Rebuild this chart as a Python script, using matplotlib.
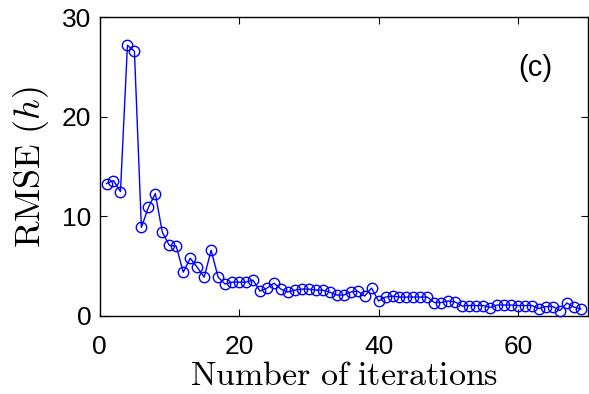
import matplotlib
matplotlib.use("Agg")
import matplotlib.pyplot as plt
import numpy as np

# RMSE of h at each iteration
iterations = np.arange(1, 70)
rmse = [
    13.3, 13.6, 12.5, 27.2, 26.6, 8.9, 10.9, 12.3, 8.4, 7.1,
    7.0, 4.4, 5.8, 4.9, 3.9, 6.6, 3.9, 3.2, 3.4, 3.4,
    3.4, 3.6, 2.5, 2.8, 3.3, 2.7, 2.4, 2.6, 2.7, 2.7,
    2.6, 2.6, 2.4, 2.1, 2.1, 2.4, 2.5, 2.0, 2.8, 1.5,
    1.9, 2.0, 1.9, 1.9, 1.9, 1.9, 1.9, 1.35, 1.35, 1.5,
    1.4, 1.0, 1.05, 1.05, 1.05, 0.85, 1.1, 1.1, 1.1, 1.05,
    1.05, 1.05, 0.75, 0.95, 0.95, 0.55, 1.3, 0.9, 0.7,
]
x_ticks = [0, 20, 40, 60]
y_ticks = [0, 10, 20, 30]

plt.rcParams["mathtext.fontset"] = "cm"
plt.rcParams["font.family"] = ["Liberation Sans", "DejaVu Sans"]

fig = plt.figure(figsize=(5.89, 3.94), dpi=100)
ax = fig.add_axes([0.169, 0.198, 0.829, 0.758])

ax.plot(iterations, rmse, "-o", color="blue", lw=1.0, ms=7.5,
        mfc="none", mec="blue", mew=1.0, clip_on=False, zorder=3)

ax.set_xlim(0, 70)
ax.set_ylim(0, 30)
ax.set_xticks(x_ticks)
ax.set_yticks(y_ticks)
ax.tick_params(direction="in", length=5, width=0.8, labelsize=19,
               top=True, right=True)
ax.tick_params(axis="x", pad=14)
ax.tick_params(axis="y", pad=6)
for sp in ax.spines.values():
    sp.set_linewidth(1.0)

ax.set_xlabel(r"$\mathrm{Number\ of\ iterations}$", fontsize=24.5,
              labelpad=1)
ax.set_ylabel(r"$\mathrm{RMSE}\ (h)$", fontsize=26, labelpad=8)
ax.text(0.893, 0.83, "(c)", transform=ax.transAxes, fontsize=21,
        ha="center", va="center")

fig.savefig("out.png", dpi=100)
